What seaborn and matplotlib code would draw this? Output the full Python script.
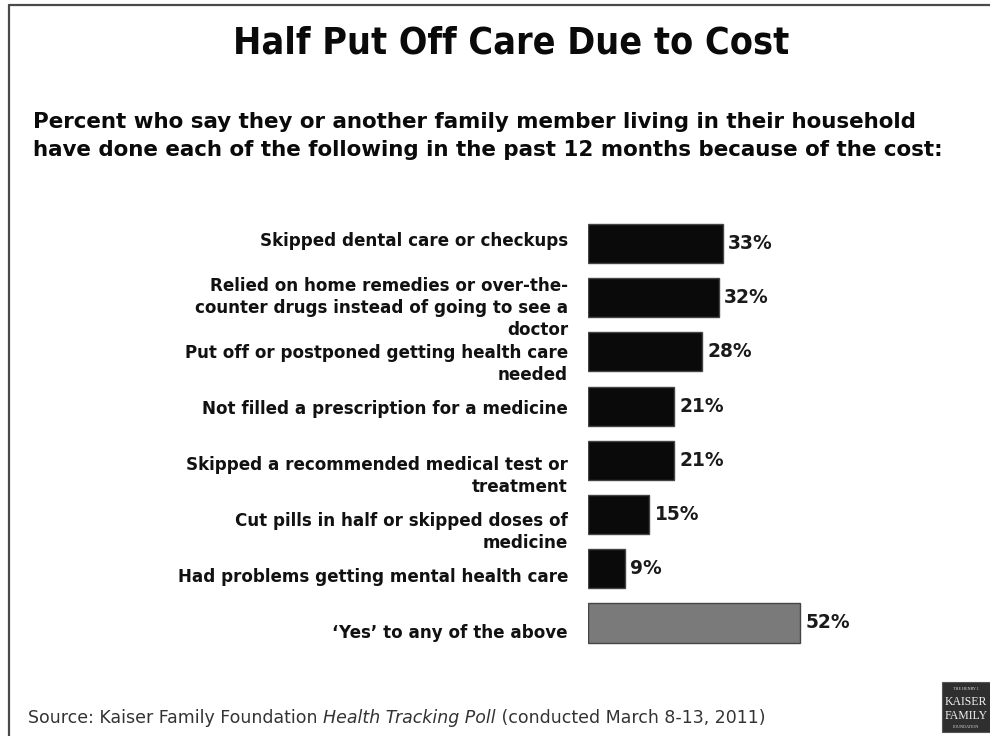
import os
import matplotlib
matplotlib.use("Agg")
import matplotlib.pyplot as plt
import pandas as pd
import seaborn as sns
from matplotlib import font_manager as fm
from matplotlib.patches import Rectangle
from matplotlib.lines import Line2D

# ---- data -------------------------------------------------------------
categories = [
    "Skipped dental care or checkups",
    "Relied on home remedies or over-the-\ncounter drugs instead of going to see a\ndoctor",
    "Put off or postponed getting health care\nneeded",
    "Not filled a prescription for a medicine",
    "Skipped a recommended medical test or\ntreatment",
    "Cut pills in half or skipped doses of\nmedicine",
    "Had problems getting mental health care",
    "\u2018Yes\u2019 to any of the above",
]
values = [33, 32, 28, 21, 21, 15, 9, 52]
summary_item = "\u2018Yes\u2019 to any of the above"

title = "Half Put Off Care Due to Cost"
subtitle_lines = [
    "Percent who say they or another family member living in their household",
    "have done each of the following in the past 12 months because of the cost:",
]
source_parts = [
    ("Source: Kaiser Family Foundation ", "normal"),
    ("Health Tracking Poll", "italic"),
    (" (conducted March 8-13, 2011)", "normal"),
]

# ---- style ------------------------------------------------------------
sns.set_theme(style="white")
plt.rcParams["font.family"] = ["DejaVu Sans"]


def condensed_bold():
    wanted = [
        "DejaVuSansCondensed-Bold.ttf",
        "NotoSans-CondensedBold.ttf",
        "LiberationSansNarrow-Bold.ttf",
        "RobotoCondensed-Bold.ttf",
    ]
    files = {os.path.basename(f.fname): f.fname for f in fm.fontManager.ttflist}
    for w in wanted:
        if w in files:
            return fm.FontProperties(fname=files[w]), True
    return fm.FontProperties(family="DejaVu Sans", weight="bold"), False


title_font, is_condensed = condensed_bold()

W, H = 990, 736
fig = plt.figure(figsize=(W / 100, H / 100), dpi=100)
fig.patch.set_facecolor("white")

# plot area: bars start at x=588px, 0..90 % scale
ax = fig.add_axes([588 / W, 1 - 650.1 / H, 367.2 / W, (650.1 - 216.4) / H])

df = pd.DataFrame({"item": categories, "pct": values})
palette = {c: ("#7a7a7a" if c == summary_item else "#0a0a0a") for c in categories}
sns.barplot(
    data=df, x="pct", y="item", hue="item", palette=palette, legend=False,
    orient="h", width=0.72, saturation=1, edgecolor="#454545", linewidth=1.0,
    ax=ax,
)
ax.set_xlim(0, 90)
ax.set_ylim(len(categories) - 0.5, -0.5)
ax.set_xlabel("")
ax.set_ylabel("")
ax.set_xticks([])
ax.set_yticks([])
for s in ax.spines.values():
    s.set_visible(False)
ax.patch.set_alpha(0)

# value labels
for cont in ax.containers:
    ax.bar_label(
        cont, labels=[f"{v:g}%" for v in cont.datavalues], padding=4,
        fontsize=13.4, fontweight="bold", color="#1a1a1a",
    )

# category labels, right-aligned to the left of the bars
for i, lab in enumerate(categories):
    nlines = lab.count("\n") + 1
    dy = 12 - 1.8 * i + (11 if nlines >= 3 else 0)
    ax.annotate(
        lab, xy=(0, i), xycoords="data", xytext=(-20, dy),
        textcoords="offset pixels", ha="right", va="top",
        fontsize=12.1, fontweight="bold", color="#111111",
        multialignment="right", linespacing=1.3, annotation_clip=False,
    )

# ---- titles -----------------------------------------------------------
fig.text(511 / W, 1 - 53 / H, title, ha="center", va="baseline",
         fontproperties=title_font, fontsize=27 if is_condensed else 21,
         color="#0a0a0a")
for k, line in enumerate(subtitle_lines):
    fig.text(33 / W, 1 - (128 + 28 * k) / H, line, ha="left", va="baseline",
             fontsize=15.4, fontweight="bold", color="#0a0a0a")

# ---- source line with italic poll name -------------------------------
renderer = fig.canvas.get_renderer()
x_px = 28
for txt, style in source_parts:
    t = fig.text(x_px / W, 1 - 723 / H, txt, ha="left", va="baseline",
                 fontsize=12.5, style=style, color="#333333")
    x_px = t.get_window_extent(renderer=renderer).x1

# ---- foundation logo block ----------------------------------------------
fig.patches.append(Rectangle((942 / W, 1 - 732 / H), 50 / W, 50 / H,
                             transform=fig.transFigure, facecolor="#2f2f2f",
                             edgecolor="#555555", linewidth=0.8))
logo_x = 966 / W
fig.text(logo_x, 1 - 689 / H, "THE HENRY J.", ha="center", va="center",
         fontsize=3, family="Liberation Serif", color="#dddddd")
fig.text(logo_x, 1 - 702 / H, "KAISER", ha="center", va="center",
         fontsize=8.5, family="Liberation Serif", color="#f2f2f2")
fig.text(logo_x, 1 - 716 / H, "FAMILY", ha="center", va="center",
         fontsize=8.5, family="Liberation Serif", color="#f2f2f2")
fig.text(logo_x, 1 - 727 / H, "FOUNDATION", ha="center", va="center",
         fontsize=3, family="Liberation Serif", color="#dddddd")

# ---- slide frame (left and top edges) ---------------------------------
fig.lines.append(Line2D([9 / W, 9 / W], [0, 1 - 5 / H], transform=fig.transFigure,
                        color="#4a4a4a", linewidth=1.6))
fig.lines.append(Line2D([9 / W, 1], [1 - 5 / H, 1 - 5 / H], transform=fig.transFigure,
                        color="#4a4a4a", linewidth=1.6))

fig.savefig("out.png", dpi=100, facecolor="white")
